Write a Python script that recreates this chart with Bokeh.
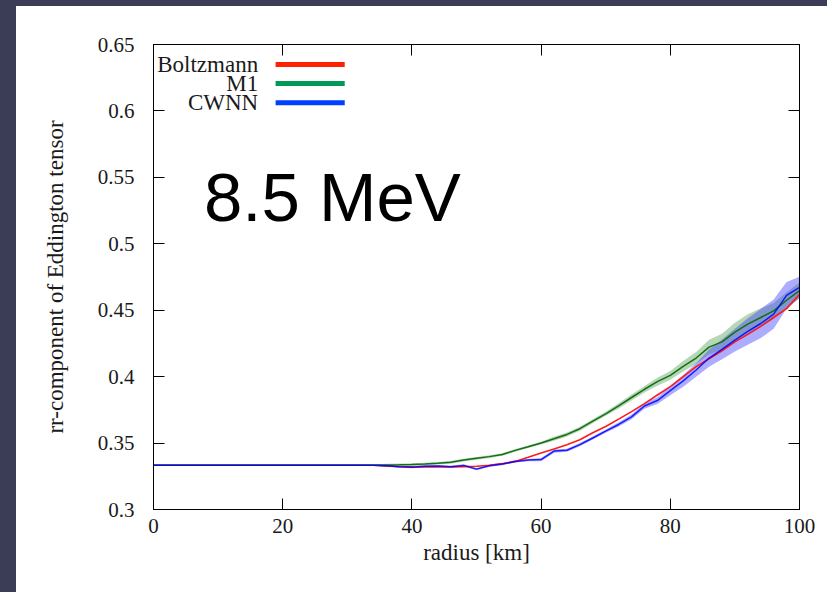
from bokeh.plotting import figure
from bokeh.models import Range1d, LinearAxis, FixedTicker, Label, Spacer, ColumnDataSource
from bokeh.layouts import row, column
from bokeh.embed import file_html
from bokeh.resources import INLINE
from bokeh.core.properties import value

# ---------------- data ----------------
radius = list(range(0, 101, 2))

boltzmann = [0.3333] * 18 + [
    0.3328, 0.3324, 0.3321, 0.3320, 0.3320, 0.3321, 0.3323, 0.3326, 0.3333, 0.3345,
    0.3362, 0.3393, 0.3425, 0.3455, 0.3488, 0.3525, 0.3578, 0.3625, 0.3680, 0.3737,
    0.3797, 0.3862, 0.3925, 0.4000, 0.4075, 0.4135, 0.4195, 0.4262, 0.4318, 0.4378,
    0.4445, 0.4512, 0.4620]

m1 = [0.3333] * 18 + [
    0.3335, 0.3336, 0.3338, 0.3342, 0.3348, 0.3355, 0.3372, 0.3385, 0.3398, 0.3414,
    0.3445, 0.3472, 0.3500, 0.3532, 0.3565, 0.3608, 0.3665, 0.3720, 0.3780, 0.3843,
    0.3905, 0.3962, 0.4010, 0.4078, 0.4140, 0.4222, 0.4262, 0.4335, 0.4395, 0.4445,
    0.4495, 0.4575, 0.4648]
m1_err = [0.0003] * 18 + [
    0.0010, 0.0010, 0.0010, 0.0010, 0.0010, 0.0010, 0.0010, 0.0010, 0.0010, 0.0010,
    0.0010, 0.0010, 0.0010, 0.0015, 0.0015, 0.0015, 0.0015, 0.0015, 0.0020, 0.0022,
    0.0025, 0.0030, 0.0033, 0.0040, 0.0045, 0.0055, 0.0060, 0.0070, 0.0075, 0.0070,
    0.0060, 0.0060, 0.0060]

cwnn = [0.3333] * 18 + [
    0.3330, 0.3322, 0.3318, 0.3325, 0.3327, 0.3322, 0.3332, 0.3304, 0.3330, 0.3342,
    0.3362, 0.3372, 0.3376, 0.3440, 0.3446, 0.3488, 0.3538, 0.3590, 0.3640, 0.3697,
    0.3779, 0.3820, 0.3895, 0.3968, 0.4050, 0.4140, 0.4205, 0.4275, 0.4340, 0.4400,
    0.4470, 0.4612, 0.4672]
cwnn_err = [0.0004] * 18 + [
    0.0008, 0.0008, 0.0008, 0.0008, 0.0008, 0.0008, 0.0008, 0.0008, 0.0008, 0.0008,
    0.0008, 0.0008, 0.0012, 0.0012, 0.0012, 0.0012, 0.0012, 0.0012, 0.0015, 0.0018,
    0.0020, 0.0025, 0.0035, 0.0045, 0.0050, 0.0065, 0.0075, 0.0085, 0.0100, 0.0110,
    0.0110, 0.0100, 0.0080]

x_ticks = [0, 20, 40, 60, 80, 100]
y_ticks = [0.3, 0.35, 0.4, 0.45, 0.5, 0.55, 0.6, 0.65]

legend_labels = ["Boltzmann", "M1", "CWNN"]
legend_colors = ["#ff2200", "#00995a", "#0040ff"]

energy_label = "8.5 MeV"

# ---------------- figure ----------------
SERIF = "Liberation Serif"

p = figure(width=811, height=586, output_backend="svg", toolbar_location=None,
           x_range=Range1d(0, 100), y_range=Range1d(0.3, 0.65),
           min_border_left=137, min_border_right=28, min_border_top=38, min_border_bottom=83,
           background_fill_color="white", border_fill_color="white")
p.grid.visible = False
p.outline_line_color = "black"
p.outline_line_width = 1

def style_axis(ax, labels=True):
    ax.axis_line_color = "black"
    ax.major_tick_line_color = "black"
    ax.major_tick_in = 11
    ax.major_tick_out = 0
    ax.minor_tick_line_color = None
    ax.major_label_text_font = SERIF
    ax.major_label_text_font_size = "21px"
    ax.major_label_text_color = "#1a1a1a" if labels else None

p.xaxis.ticker = FixedTicker(ticks=x_ticks)
p.yaxis.ticker = FixedTicker(ticks=y_ticks)
p.xaxis.major_label_overrides = {t: str(t) for t in x_ticks}
p.yaxis.major_label_overrides = {t: ("%g" % t) for t in y_ticks}
style_axis(p.xaxis[0])
style_axis(p.yaxis[0])
p.xaxis.major_label_standoff = 9
p.yaxis.major_label_standoff = 19

p.xaxis.axis_label = "radius [km]"
p.yaxis.axis_label = "rr-component of Eddington tensor"
for ax in (p.xaxis[0], p.yaxis[0]):
    ax.axis_label_text_font = SERIF
    ax.axis_label_text_font_size = "23px"
    ax.axis_label_text_font_style = "normal"
    ax.axis_label_text_color = "#1a1a1a"
p.xaxis.axis_label_standoff = 4
p.yaxis.axis_label_standoff = 27

top = LinearAxis(ticker=FixedTicker(ticks=x_ticks))
right = LinearAxis(ticker=FixedTicker(ticks=y_ticks))
style_axis(top, labels=False)
style_axis(right, labels=False)
top.major_label_text_font_size = "0px"
right.major_label_text_font_size = "0px"
top.major_label_standoff = 0
right.major_label_standoff = 0
p.add_layout(top, "above")
p.add_layout(right, "right")

# bands
m1_lo = [v - e for v, e in zip(m1, m1_err)]
m1_hi = [v + e for v, e in zip(m1, m1_err)]
cw_lo = [v - e for v, e in zip(cwnn, cwnn_err)]
cw_hi = [v + e for v, e in zip(cwnn, cwnn_err)]
p.varea(x=radius, y1=m1_lo, y2=m1_hi, fill_color="#2e8b2e", fill_alpha=0.35)
p.varea(x=radius, y1=cw_lo, y2=cw_hi, fill_color="#3333ff", fill_alpha=0.4)

# lines
p.line(radius, boltzmann, line_color="#ff1a1a", line_width=1.6)
p.line(radius, m1, line_color="#146e14", line_width=1.5)
p.line(radius, cwnn, line_color="#0000ff", line_width=1.5, line_alpha=0.85)

# legend (text then sample line, as in reference)
leg_y = [0.6350, 0.6207, 0.6061]
leg_src = ColumnDataSource(dict(
    tx=[16.2] * 3, y=leg_y, label=legend_labels, color=legend_colors,
    x0=[18.9] * 3, x1=[29.6] * 3))
p.text(x="tx", y="y", text="label", source=leg_src, text_align="right",
       text_baseline="middle", text_font=value(SERIF), text_font_size="23px",
       text_color="#1a1a1a")
p.segment(x0="x0", y0="y", x1="x1", y1="y", source=leg_src, line_color="color",
          line_width=5)

p.add_layout(Label(x=7.8, y=0.5345, text=energy_label, text_font="Liberation Sans",
                   text_font_size="69px", text_color="black",
                   text_baseline="alphabetic", text_align="left"))

dark = "#3b3d56"
left_bar = Spacer(width=16, height=592, styles={"background-color": dark})
top_bar = Spacer(width=811, height=6, styles={"background-color": dark})
layout = row(left_bar, column(top_bar, p, spacing=0), spacing=0)

open("out.html", "w").write(file_html(layout, INLINE))
